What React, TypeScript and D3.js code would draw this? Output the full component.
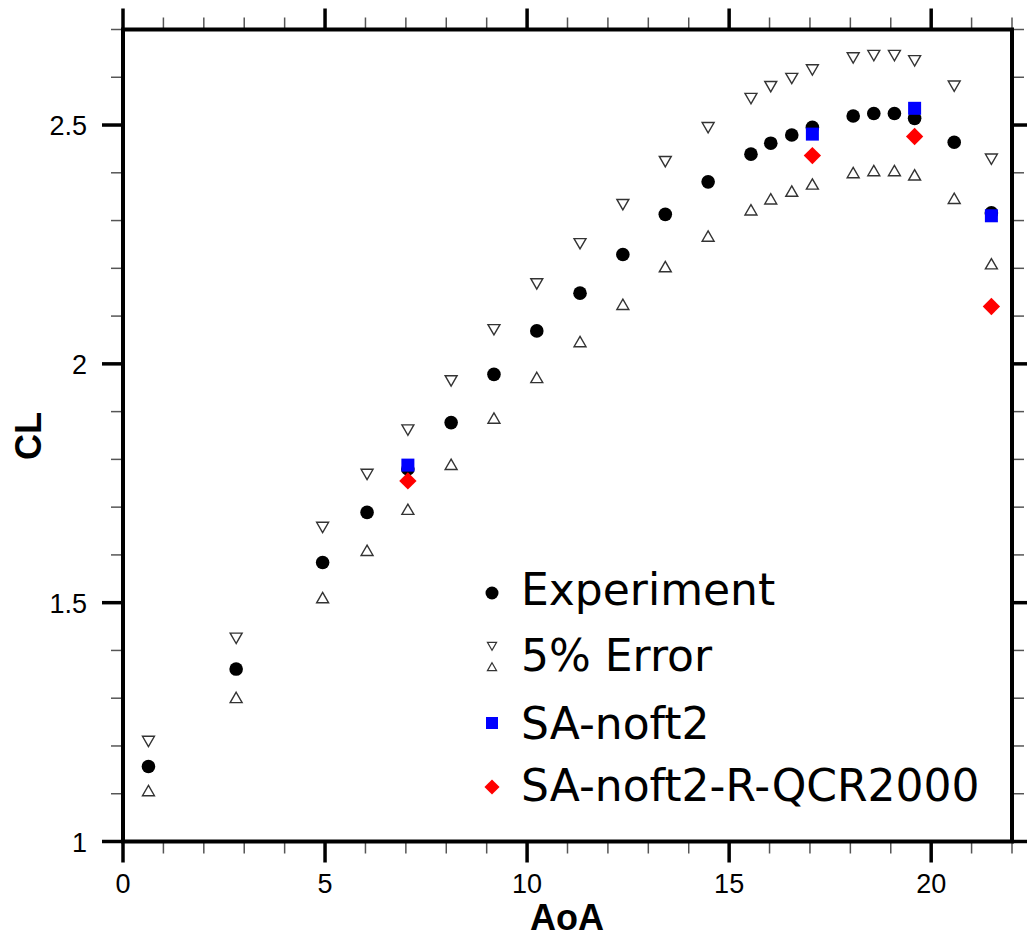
import React from 'react';
import * as d3 from 'd3';

// angle of attack (deg) for the experiment and 5% band
const aoa = [0.63, 2.8, 4.94, 6.04, 7.05, 8.12, 9.18, 10.24, 11.31, 12.37, 13.42, 14.48, 15.54, 16.03, 16.55, 17.06, 18.07, 18.58, 19.09, 19.59, 20.57, 21.49];
const experiment = [1.157, 1.361, 1.584, 1.689, 1.78, 1.877, 1.978, 2.069, 2.148, 2.229, 2.313, 2.381, 2.439, 2.462, 2.479, 2.495, 2.519, 2.524, 2.524, 2.514, 2.464, 2.316];
const errorUpper = [1.213, 1.429, 1.661, 1.772, 1.865, 1.968, 2.075, 2.171, 2.255, 2.337, 2.427, 2.498, 2.559, 2.584, 2.601, 2.619, 2.644, 2.649, 2.649, 2.638, 2.585, 2.432];
const errorLower = [1.103, 1.298, 1.507, 1.606, 1.692, 1.786, 1.883, 1.968, 2.043, 2.121, 2.2, 2.264, 2.319, 2.342, 2.358, 2.373, 2.397, 2.401, 2.401, 2.392, 2.343, 2.206];

const cfdAoa = [7.05, 17.06, 19.59, 21.49];
const saNoft2 = [1.788, 2.481, 2.535, 2.31];
const saQcr = [1.755, 2.436, 2.476, 2.12];

const xMajor = [0, 5, 10, 15, 20];
const yMajor = [1, 1.5, 2, 2.5];
const yLabels = ['1', '1.5', '2', '2.5'];

const W = 1027;
const H = 938;
const left = 123, right = 1012, top = 29.5, bottom = 841.5;

const x = d3.scaleLinear().domain([0, 22]).range([left, right]);
const y = d3.scaleLinear().domain([1, 2.7]).range([bottom, top]);

const xMinor = d3.range(0, 23, 1).filter(v => !xMajor.includes(v));
const yMinor = d3.range(1, 2.71, 0.1).map(v => +v.toFixed(1)).filter(v => !yMajor.includes(v));

const tri = d3.symbol(d3.symbolTriangle, 62)() as string;
const triSmall = d3.symbol(d3.symbolTriangle, 36)() as string;
const diamond = d3.symbol(d3.symbolSquare, 150)() as string;
const diamondSmall = d3.symbol(d3.symbolSquare, 115)() as string;

const tickFont = { fontFamily: 'Liberation Sans, Arial, sans-serif', fontSize: 27 };
const titleFont = { fontFamily: 'Liberation Sans, Arial, sans-serif', fontSize: 36, fontWeight: 700 };
const legendFont = { fontFamily: 'DejaVu Sans, sans-serif', fontSize: 44 };

const MAJ = 21, MIN = 12;

export default function App() {
  const lx = 492, tx = 521;
  return (
    <div style={{ position: 'absolute', left: 0, top: 0 }}>
      <svg width={W} height={H} viewBox={`0 0 ${W} ${H}`} style={{ display: 'block', background: '#fff' }}>
        {/* minor ticks, all four sides, outward */}
        <g stroke="#555" strokeWidth={1.5}>
          {xMinor.map(v => (
            <g key={`xm-${v}`}>
              <line x1={x(v)} x2={x(v)} y1={bottom} y2={bottom + MIN} />
              <line x1={x(v)} x2={x(v)} y1={top} y2={top - MIN} />
            </g>
          ))}
          {yMinor.map(v => (
            <g key={`ym-${v}`}>
              <line x1={left} x2={left - MIN} y1={y(v)} y2={y(v)} />
              <line x1={right} x2={right + MIN} y1={y(v)} y2={y(v)} />
            </g>
          ))}
        </g>
        {/* major ticks */}
        <g stroke="#000" strokeWidth={3.5}>
          {xMajor.map(v => (
            <g key={`xM-${v}`}>
              <line x1={x(v)} x2={x(v)} y1={bottom} y2={bottom + MAJ} />
              <line x1={x(v)} x2={x(v)} y1={top} y2={top - MAJ} />
            </g>
          ))}
          {yMajor.map(v => (
            <g key={`yM-${v}`}>
              <line x1={left} x2={left - MAJ} y1={y(v)} y2={y(v)} />
              <line x1={right} x2={right + MAJ} y1={y(v)} y2={y(v)} />
            </g>
          ))}
        </g>
        {/* frame */}
        <rect x={left} y={top} width={right - left} height={bottom - top} fill="none" stroke="#000" strokeWidth={4} />

        {/* tick labels */}
        {xMajor.map(v => (
          <text key={`xl-${v}`} x={x(v)} y={893} textAnchor="middle" style={tickFont}>{v}</text>
        ))}
        {yMajor.map((v, i) => (
          <text key={`yl-${v}`} x={87} y={y(v) + 10} textAnchor="end" style={tickFont}>{yLabels[i]}</text>
        ))}

        {/* axis titles */}
        <text x={567} y={930} textAnchor="middle" style={titleFont}>AoA</text>
        <text transform="translate(41, 436) rotate(-90)" textAnchor="middle" style={titleFont}>CL</text>

        {/* 5% error band */}
        <g fill="#fff" stroke="#333" strokeWidth={1.4}>
          {aoa.map((a, i) => (
            <path key={`up-${i}`} d={tri} transform={`translate(${x(a)}, ${y(errorUpper[i])}) rotate(180)`} />
          ))}
          {aoa.map((a, i) => (
            <path key={`lo-${i}`} d={tri} transform={`translate(${x(a)}, ${y(errorLower[i])})`} />
          ))}
        </g>

        {/* experiment */}
        {aoa.map((a, i) => (
          <circle key={`ex-${i}`} cx={x(a)} cy={y(experiment[i])} r={6.8} fill="#000" />
        ))}

        {/* SA-noft2 */}
        {cfdAoa.map((a, i) => (
          <rect key={`sa-${i}`} x={x(a) - 6.5} y={y(saNoft2[i]) - 6.5} width={13} height={13} fill="#0000ff" />
        ))}

        {/* SA-noft2-R-QCR2000 */}
        {cfdAoa.map((a, i) => (
          <path key={`qcr-${i}`} d={diamond} transform={`translate(${x(a)}, ${y(saQcr[i])}) rotate(45)`} fill="#ff0000" />
        ))}

        {/* legend */}
        <g>
          <circle cx={lx} cy={593} r={6.5} fill="#000" />
          <text x={tx} y={605} style={legendFont}>Experiment</text>

          <path d={triSmall} transform={`translate(${lx}, 645) rotate(180)`} fill="#fff" stroke="#333" strokeWidth={1.2} />
          <path d={triSmall} transform={`translate(${lx}, 668)`} fill="#fff" stroke="#333" strokeWidth={1.2} />
          <text x={tx} y={671} style={legendFont}>5% Error</text>

          <rect x={lx - 6} y={717} width={12} height={12} fill="#0000ff" />
          <text x={tx} y={739} style={legendFont}>SA-noft2</text>

          <path d={diamondSmall} transform={`translate(${lx}, 787) rotate(45)`} fill="#ff0000" />
          <text x={tx} y={801} style={legendFont}>SA-noft2-R-QCR2000</text>
        </g>
      </svg>
    </div>
  );
}
